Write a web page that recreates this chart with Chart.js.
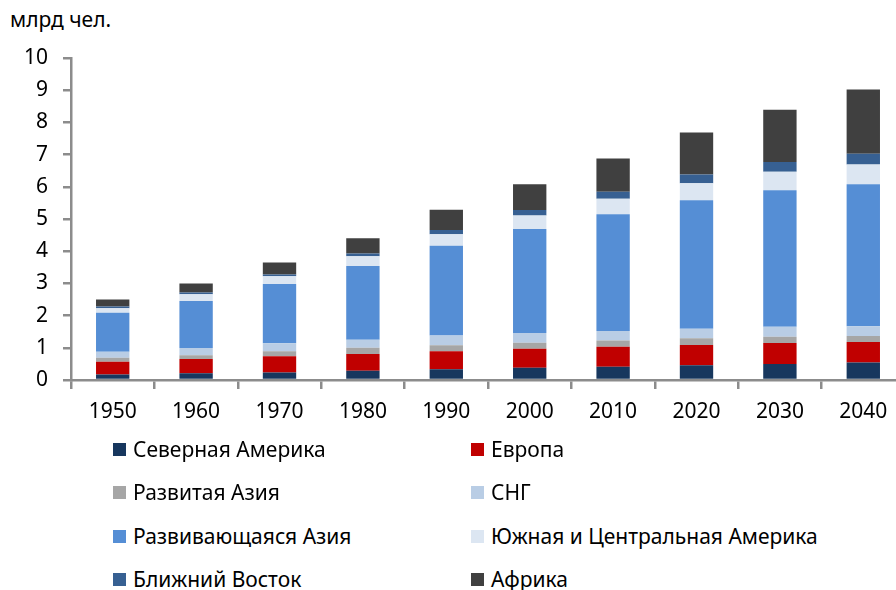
<!DOCTYPE html>
<html>
<head>
<meta charset="utf-8">
<script src="https://cdn.jsdelivr.net/npm/chart.js@4"></script>
<style>
  html, body { margin: 0; padding: 0; background: #fff; overflow: hidden; width: 896px; height: 590px; }
  body { position: relative; font-family: "Noto Sans", sans-serif; color: #000; }
  #wrap { position: absolute; left: 0; top: 0; width: 905px; height: 441px; }
  #unit { position: absolute; left: 10px; top: 5px; font-size: 21px; }
  .lg { position: absolute; font-size: 21px; white-space: nowrap; line-height: 24px; }
  .lg span.sq { position: absolute; left: 0; top: 6px; width: 13px; height: 13px; }
  .lg span.tx { position: absolute; left: 20px; top: 0; }
</style>
</head>
<body>
<div id="unit">млрд чел.</div>
<div id="wrap"><canvas id="popChart"></canvas></div>
<div id="legend"></div>
<script>
const years = ['1950', '1960', '1970', '1980', '1990', '2000', '2010', '2020', '2030', '2040'];

// значения, млрд чел. (снизу вверх по стопке)
const northAmerica = [0.17, 0.21, 0.23, 0.29, 0.33, 0.38, 0.41, 0.46, 0.50, 0.54];
const europe       = [0.40, 0.44, 0.51, 0.52, 0.56, 0.59, 0.62, 0.63, 0.65, 0.64];
const developedAsia = [0.12, 0.12, 0.15, 0.19, 0.19, 0.19, 0.20, 0.21, 0.19, 0.19];
const cis          = [0.19, 0.22, 0.25, 0.25, 0.30, 0.30, 0.29, 0.29, 0.31, 0.30];
const developingAsia = [1.21, 1.46, 1.84, 2.29, 2.79, 3.23, 3.63, 3.99, 4.24, 4.41];
const latinAmerica = [0.14, 0.21, 0.24, 0.30, 0.36, 0.42, 0.48, 0.53, 0.58, 0.61];
const middleEast   = [0.05, 0.06, 0.06, 0.09, 0.13, 0.17, 0.22, 0.27, 0.30, 0.34];
const africa       = [0.22, 0.28, 0.37, 0.47, 0.63, 0.80, 1.03, 1.31, 1.62, 1.99];

const yTicks = [0, 1, 2, 3, 4, 5, 6, 7, 8, 9, 10];

const series = [
    { label: 'Северная Америка', data: northAmerica, color: '#17375E' },
    { label: 'Европа', data: europe, color: '#C00000' },
    { label: 'Развитая Азия', data: developedAsia, color: '#A6A6A6' },
    { label: 'СНГ', data: cis, color: '#B9CDE5' },
    { label: 'Развивающаяся Азия', data: developingAsia, color: '#558ED5' },
    { label: 'Южная и Центральная Америка', data: latinAmerica, color: '#DCE6F2' },
    { label: 'Ближний Восток', data: middleEast, color: '#376092' },
    { label: 'Африка', data: africa, color: '#404040' }
];

const axisColor = '#8C8C8C';
const font = { family: '"Noto Sans", sans-serif', size: 21 };

new Chart(document.getElementById('popChart'), {
    type: 'bar',
    data: {
        labels: years,
        datasets: series.map(s => ({
            label: s.label,
            data: s.data,
            backgroundColor: s.color,
            borderWidth: 0,
            barPercentage: 0.4,
            categoryPercentage: 1.0
        }))
    },
    options: {
        responsive: true,
        maintainAspectRatio: false,
        animation: false,
        layout: { padding: { left: 0, right: 0, top: 58, bottom: 0 } },
        plugins: {
            legend: { display: false },
            tooltip: { enabled: false }
        },
        scales: {
            x: {
                stacked: true,
                offset: true,
                afterFit: (scale) => { scale.height = 61; },
                grid: {
                    display: true,
                    offset: true,
                    drawOnChartArea: false,
                    drawTicks: true,
                    tickLength: 9,
                    color: axisColor,
                    lineWidth: 2.5
                },
                border: { display: true, color: axisColor, width: 2.5 },
                ticks: { color: '#000', font: font, padding: 10, maxRotation: 0 }
            },
            y: {
                stacked: true,
                min: 0,
                max: 10,
                afterFit: (scale) => { scale.width = 71; },
                afterBuildTicks: (scale) => { scale.ticks = yTicks.map(v => ({ value: v })); },
                grid: {
                    display: true,
                    drawOnChartArea: false,
                    drawTicks: true,
                    tickLength: 8,
                    color: axisColor,
                    lineWidth: 2.5
                },
                border: { display: true, color: axisColor, width: 2.5 },
                ticks: { color: '#000', font: font, padding: 15 }
            }
        }
    }
});

// легенда в две колонки
const legendBox = document.getElementById('legend');
const colX = [113, 471];
const rowY = [437, 480, 524, 567];
series.forEach((s, i) => {
    const item = document.createElement('div');
    item.className = 'lg';
    item.style.left = colX[i % 2] + 'px';
    item.style.top = rowY[Math.floor(i / 2)] + 'px';
    item.innerHTML = '<span class="sq" style="background:' + s.color + '"></span><span class="tx">' + s.label + '</span>';
    legendBox.appendChild(item);
});
</script>
</body>
</html>
